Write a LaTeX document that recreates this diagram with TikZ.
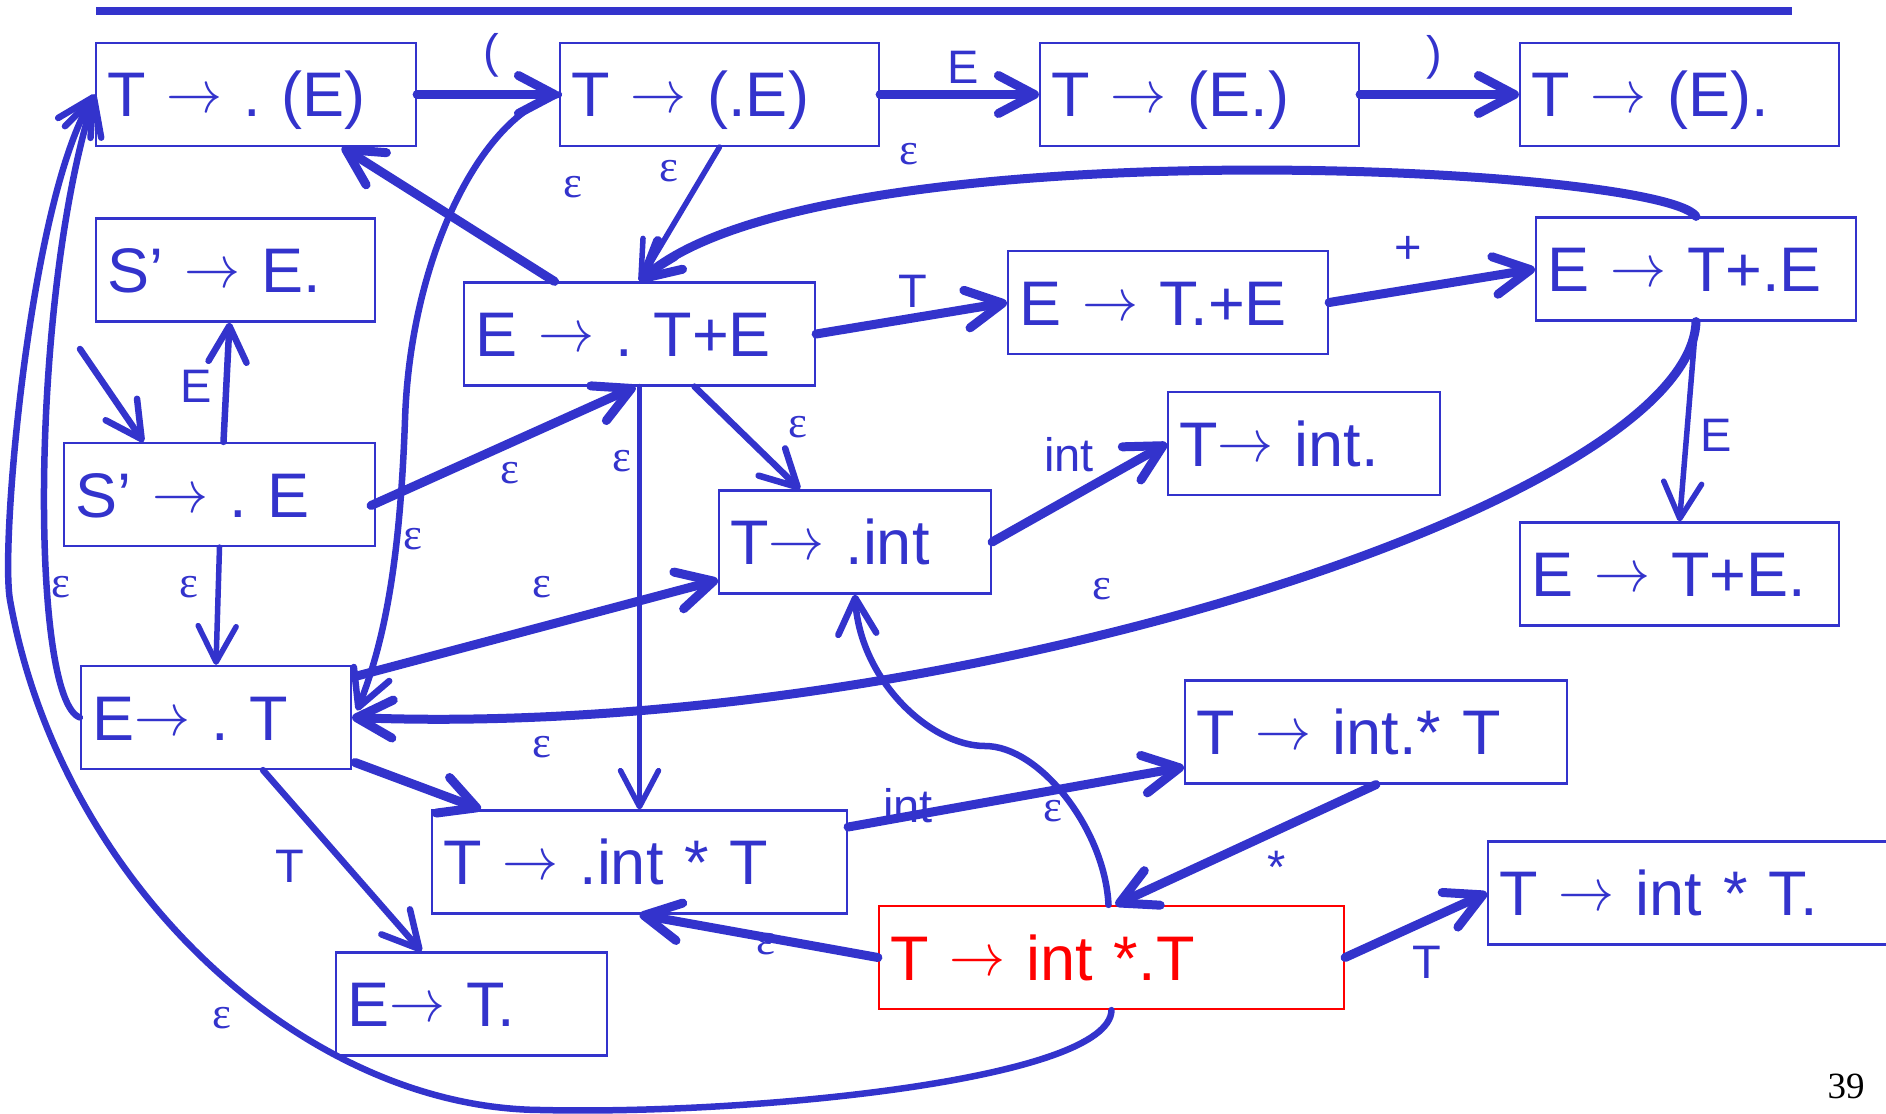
\documentclass[tikz,border=0pt]{standalone}
\usepackage{graphicx}
\usepackage{fontspec}
\setmainfont{Liberation Sans}
\newfontfamily\epsfamily{Liberation Serif}
\usetikzlibrary{arrows.meta,calc}
\definecolor{ink}{RGB}{51,51,204}
\definecolor{hot}{RGB}{255,0,0}
\newcommand{\myar}{\raisebox{5pt}{\scalebox{5.6}[6]{\normalsize$\rightarrow$}}}
\tikzset{
  nbox/.style={draw=ink, line width=2.2pt, text=ink, font=\fontsize{63}{68}\selectfont\frenchspacing,
    inner xsep=11pt, inner ysep=0pt, minimum height=103pt, text height=45pt, text depth=0pt, align=left},
  tip/.style={-{Straight Barb[length=36pt,width=38pt,round]}},
  tk/.style={draw=ink, line width=9pt, line cap=round, tip},
  md/.style={draw=ink, line width=6.5pt, line cap=round, tip},
  tn/.style={draw=ink, line width=5.5pt, line cap=round, tip},
  lab/.style={text=ink, font=\fontsize{47}{50}\selectfont, inner sep=0pt},
  eps/.style={text=ink, font=\epsfamily\fontsize{45}{48}\selectfont, inner sep=0pt},
  num/.style={text=black, font=\epsfamily\fontsize{37}{40}\selectfont, inner sep=0pt}
}
\begin{document}
\begin{tikzpicture}[x=1pt,y=-1pt]
\useasboundingbox (0,0) rectangle (1886,1113);
\draw[draw=ink, line width=8pt] (96,11) -- (1792,11);

\node[nbox, text width=298pt] (B1) at (256,94.5) {T \myar{} . (E)};
\node[nbox, text width=297pt] (B2) at (719.5,94.5) {T \myar{} (.E)};
\node[nbox, text width=297pt] (B3) at (1199.5,94.5) {T \myar{} (E.)};
\node[nbox, text width=297pt] (B4) at (1679.5,94.5) {T \myar{} (E).};
\node[nbox, text width=257pt] (SE) at (235.5,270) {S’ \myar{} E.};
\node[nbox, text width=329pt] (ETE) at (639.5,334) {E \myar{} . T+E};
\node[nbox, text width=298pt] (ETdPE) at (1168,302.5) {E \myar{} T.+E};
\node[nbox, text width=298pt] (ETPE) at (1696,269) {E \myar{} T+.E};
\node[nbox, text width=250pt] (Tint) at (1304,443.5) {T\myar{} int.};
\node[nbox, text width=289pt] (SdE) at (219.5,494.5) {S’ \myar{} . E};
\node[nbox, text width=250pt] (Tdint) at (855,542) {T\myar{} .int};
\node[nbox, text width=297pt] (ETPEd) at (1679.5,574) {E \myar{} T+E.};
\node[nbox, text width=248pt] (EdT) at (216,717.5) {E\myar{} . T};
\node[nbox, text width=360pt] (TintdsT) at (1376,732) {T \myar{} int.* T};
\node[nbox, text width=393pt] (TdintsT) at (639.5,862) {T \myar{} .int * T};
\node[nbox, text width=390pt] (TintsTd) at (1694,893) {T \myar{} int * T.};
\node[nbox, draw=hot, text=hot, text width=443pt] (R) at (1111.5,957.5) {T \myar{} int *.T};
\node[nbox, text width=249pt] (ETd) at (471.5,1004) {E\myar{} T.};

% edges
\draw[tk] (B1.east) -- (B2.west);
\draw[tk] (B2.east) -- (B3.west);
\draw[tk] (B3.east) -- (B4.west);
\draw[tn] (B2.south) -- (ETE.north);
\draw[tk] ($(ETE.north)+(-85,0)$) -- ($(B1.south)+(86,0)$);
\draw[tk] (ETPE.north) .. controls (1660,165) and (820,125) .. (ETE.north);
\draw[tk] (ETPE.south) .. controls (1690,500) and (950,740) .. (EdT.east);
\draw[tn] (ETPE.south) -- (ETPEd.north);
\draw[tk] (ETE.east) -- (ETdPE.west);
\draw[tk] (ETdPE.east) -- (ETPE.west);
\draw[md] ($(SdE.north)+(4,0)$) -- ($(SE.south)+(-6,0)$);
\coordinate (start) at (80,349);
\draw[md] (start) -- ($(SdE.north)+(-76,0)$);
\draw[tk] ($(SdE.east)+(-5,11)$) -- ($(ETE.south)+(-4,0)$);
\draw[tn] (SdE.south) -- (EdT.north);
\draw[tn] (ETE.south) -- (TdintsT.north);
\draw[md] ($(ETE.south)+(55,0)$) -- ($(Tdint.north)+(-55,0)$);
\draw[tk] ($(EdT.east)+(3,-41)$) -- ($(Tdint.west)+(0,38)$);
\draw[tk] ($(EdT.east)+(3,45)$) -- ($(TdintsT.north west)+(50,0)$);
\draw[md] (EdT.west) .. controls (30,700) and (30,300) .. (B1.west);
\draw[md] (R.south) .. controls (1110,1080) and (750,1115) .. (541,1110)
   .. controls (300,1108) and (60,880) .. (10,600)
   .. controls (0,544) and (30,200) .. (B1.west);
\draw[md] ($(EdT.south)+(47,0)$) -- ($(ETd.north)+(-50,0)$);
\draw[tk] (Tdint.east) -- (Tint.west);
\draw[tk] ($(TdintsT.east)+(0,-35)$) -- ($(TintdsT.west)+(0,35)$);
\draw[tk] (TintdsT.south) -- ($(R.north)+(4,0)$);
\draw[tk] (R.east) -- (TintsTd.west);
\draw[tk] (R.west) -- (TdintsT.south);
\draw[md] ($(R.north)+(-3,0)$) .. controls (1105,830) and (1040,746) .. (985,746)
   .. controls (930,746) and (860,680) .. (Tdint.south);
\draw[md] (B2.west) .. controls (480,115) and (410,260) .. (405,420)
   .. controls (400,560) and (385,640) .. ($(EdT.east)+(5,-7)$);

% labels
\node[lab] (L1) at (491,55) {(};
\node[lab] (L2) at (963,67) {E};
\node[lab] (L3) at (1434,57) {)};
\node[eps] (L4) at (573,187) {ε};
\node[eps] (L5) at (669,171) {ε};
\node[eps] (L6) at (909,154) {ε};
\node[lab] (L7) at (913,291) {T};
\node[lab] (L8) at (1408,250) {+};
\node[lab] (L9) at (196,386) {E};
\node[eps] (L10) at (510,473) {ε};
\node[eps] (L11) at (622,461) {ε};
\node[eps] (L12) at (798,427) {ε};
\node[eps] (L13) at (413,539) {ε};
\node[eps] (L14) at (61,587) {ε};
\node[eps] (L15) at (189,587) {ε};
\node[eps] (L16) at (542,587) {ε};
\node[eps] (L17) at (542,747) {ε};
\node[eps] (L18) at (1102,589) {ε};
\node[lab] (L19) at (1716,435) {E};
\node[lab] (L20) at (1069,455) {int};
\node[lab] (L21) at (290,866) {T};
\node[eps] (L22) at (222,1018) {ε};
\node[eps] (L23) at (766,944) {ε};
\node[lab] (L24) at (908,806) {int};
\node[eps] (L25) at (1053,811) {ε};
\node[lab] (L26) at (1277,867) {*};
\node[lab] (L27) at (1427,962) {T};
\node[num] (P) at (1846,1086) {39};
\end{tikzpicture}
\end{document}
